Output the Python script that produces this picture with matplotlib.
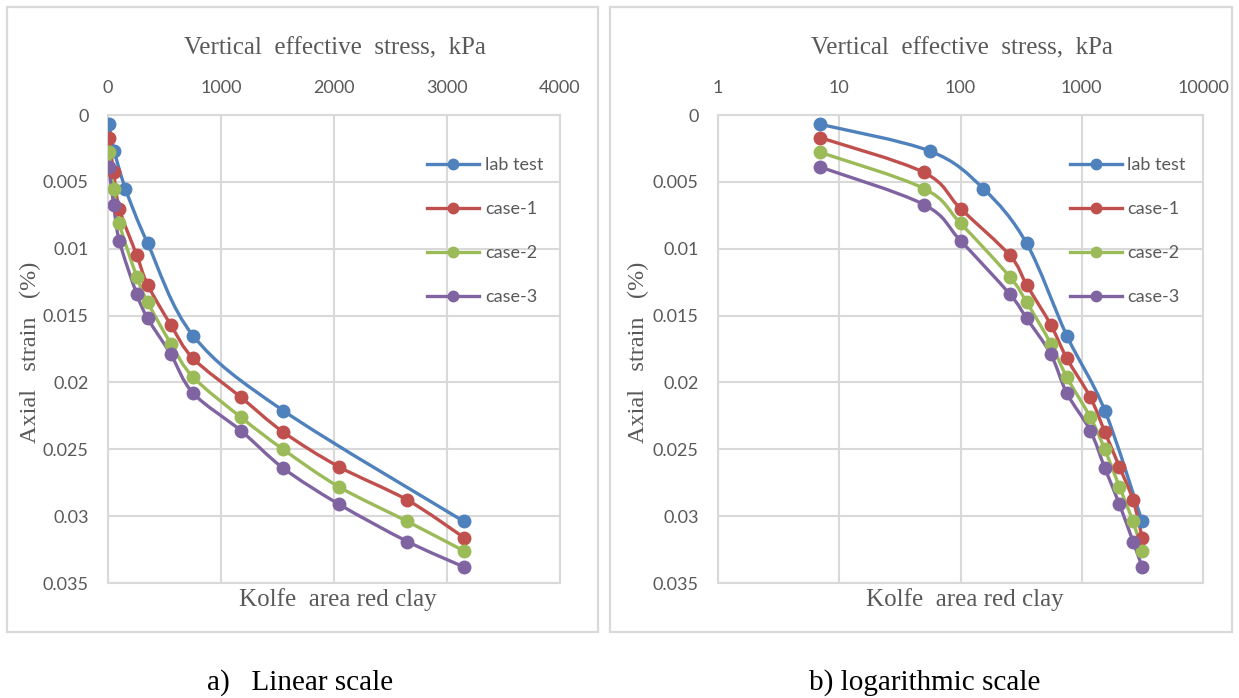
import matplotlib
matplotlib.use('Agg')
import matplotlib.pyplot as plt
from matplotlib.path import Path
from matplotlib.patches import PathPatch, Rectangle
from matplotlib.lines import Line2D
from matplotlib.ticker import FixedLocator, FixedFormatter
import numpy as np

# oedometer results, Kolfe area red clay
lab_stress = [7, 56, 154, 351, 753, 1549, 3150]
lab_strain = [0.0007, 0.0027, 0.0055, 0.0096, 0.0165, 0.0221, 0.0304]

case_stress = [7, 50, 100, 255, 351, 556, 753, 1175, 1549, 2042, 2650, 3150]
case1_strain = [0.0017, 0.0043, 0.0070, 0.0105, 0.0127, 0.0157, 0.0182, 0.0211, 0.0237, 0.0263, 0.0288, 0.0316]
case2_strain = [0.0028, 0.0055, 0.0081, 0.0121, 0.0140, 0.0171, 0.0196, 0.0226, 0.0250, 0.0278, 0.0304, 0.0326]
case3_strain = [0.0039, 0.0067, 0.0094, 0.0134, 0.0152, 0.0179, 0.0208, 0.0236, 0.0264, 0.0291, 0.0319, 0.0338]

series = [
    ('lab test', lab_stress, lab_strain, '#4F81BD'),
    ('case-1', case_stress, case1_strain, '#C0504D'),
    ('case-2', case_stress, case2_strain, '#9BBB59'),
    ('case-3', case_stress, case3_strain, '#8064A2'),
]

y_ticks = [0, 0.005, 0.01, 0.015, 0.02, 0.025, 0.03, 0.035]
y_labels = ['0', '0.005', '0.01', '0.015', '0.02', '0.025', '0.03', '0.035']
lin_ticks = [0, 1000, 2000, 3000, 4000]
log_ticks = [1, 10, 100, 1000, 10000]

W, H = 1239, 698
TICK_FONT = ['Lato', 'DejaVu Sans']
SERIF = 'Liberation Serif'
GRID = '#D9D9D9'
TXT = '#595959'


def box(x0, y0, x1, y1):
    # pixel box (top-left origin) -> figure fraction rect
    return [x0 / W, 1 - y1 / H, (x1 - x0) / W, (y1 - y0) / H]


def smooth_line(ax, x, y, color):
    # Bezier curve through the points, built in display space
    pts = ax.transData.transform(np.column_stack([x, y]))
    p = np.vstack([pts[0], pts, pts[-1]])
    verts = [pts[0]]
    codes = [Path.MOVETO]
    for i in range(1, len(p) - 2):
        c1 = p[i] + (p[i + 1] - p[i - 1]) / 6
        c2 = p[i + 1] - (p[i + 2] - p[i]) / 6
        verts += [c1, c2, p[i + 1]]
        codes += [Path.CURVE4] * 3
    verts = ax.transData.inverted().transform(np.array(verts))
    ax.add_patch(PathPatch(Path(verts, codes), fill=False, edgecolor=color,
                           lw=2.4, capstyle='round', joinstyle='round', zorder=3))


fig = plt.figure(figsize=(W / 100, H / 100), dpi=100)
fig.patch.set_facecolor('white')

# panel frames
for x0, x1 in [(7, 598), (610, 1232)]:
    r = box(x0, 7, x1, 632)
    fig.add_artist(Rectangle((r[0], r[1]), r[2], r[3], transform=fig.transFigure,
                             fill=False, edgecolor=GRID, lw=1.6))

ax1 = fig.add_axes(box(108, 115, 560, 583))
ax2 = fig.add_axes(box(718, 115, 1203, 583))

ax1.set_xlim(0, 4000)
ax2.set_xscale('log')
ax2.set_xlim(1, 10000)

for ax, ticks, lx, legx in [(ax1, lin_ticks, 335, 0.69), (ax2, log_ticks, 962, 0.71)]:
    ax.set_ylim(0.035, 0)
    ax.xaxis.set_major_locator(FixedLocator(ticks))
    ax.xaxis.set_major_formatter(FixedFormatter([str(t) for t in ticks]))
    ax.xaxis.set_minor_locator(FixedLocator([]))
    ax.yaxis.set_major_locator(FixedLocator(y_ticks))
    ax.yaxis.set_major_formatter(FixedFormatter(y_labels))
    ax.xaxis.tick_top()
    ax.tick_params(length=0, labelsize=13, labelcolor=TXT)
    ax.tick_params(axis='x', pad=14)
    ax.tick_params(axis='y', pad=14)
    for lab in ax.get_xticklabels() + ax.get_yticklabels():
        lab.set_family(TICK_FONT)
    ax.grid(True, color=GRID, lw=1.5)
    ax.set_axisbelow(True)
    for s in ax.spines.values():
        s.set_color(GRID)
        s.set_linewidth(1.5)

    for name, xs, ys, c in series:
        smooth_line(ax, xs, ys, c)
        ax.plot(xs, ys, 'o', color=c, ms=9, zorder=4)

    handles = [Line2D([], [], color=c, marker='o', ms=7.5, lw=2.4) for _, _, _, c in series]
    leg = ax.legend(handles, [s[0] for s in series], loc='upper left',
                    bbox_to_anchor=(legx, 0.925), frameon=False, handlelength=2.9,
                    handletextpad=0.3, labelspacing=1.55, borderaxespad=0,
                    prop={'family': TICK_FONT, 'size': 13})
    for t in leg.get_texts():
        t.set_color(TXT)

    # axis titles
    fig.text(lx / W, 1 - 48 / H, 'Vertical  effective  stress,  kPa', family=SERIF,
             fontsize=18, color=TXT, ha='center', va='center')
    fig.text(lx / W + 3 / W, 1 - 600 / H, 'Kolfe  area red clay', family=SERIF,
             fontsize=18, color=TXT, ha='center', va='center')

fig.text(30 / W, 1 - 352 / H, 'Axial   strain   (%)', family=SERIF, fontsize=17.5,
         color=TXT, rotation=90, ha='center', va='center')
fig.text(638 / W, 1 - 352 / H, 'Axial   strain   (%)', family=SERIF, fontsize=17.5,
         color=TXT, rotation=90, ha='center', va='center')

fig.text(300 / W, 1 - 683 / H, 'a)   Linear scale', family=SERIF, fontsize=21,
         color='black', ha='center', va='center')
fig.text(925 / W, 1 - 683 / H, 'b) logarithmic scale', family=SERIF, fontsize=21,
         color='black', ha='center', va='center')

fig.savefig('out.png', dpi=100, facecolor='white')
